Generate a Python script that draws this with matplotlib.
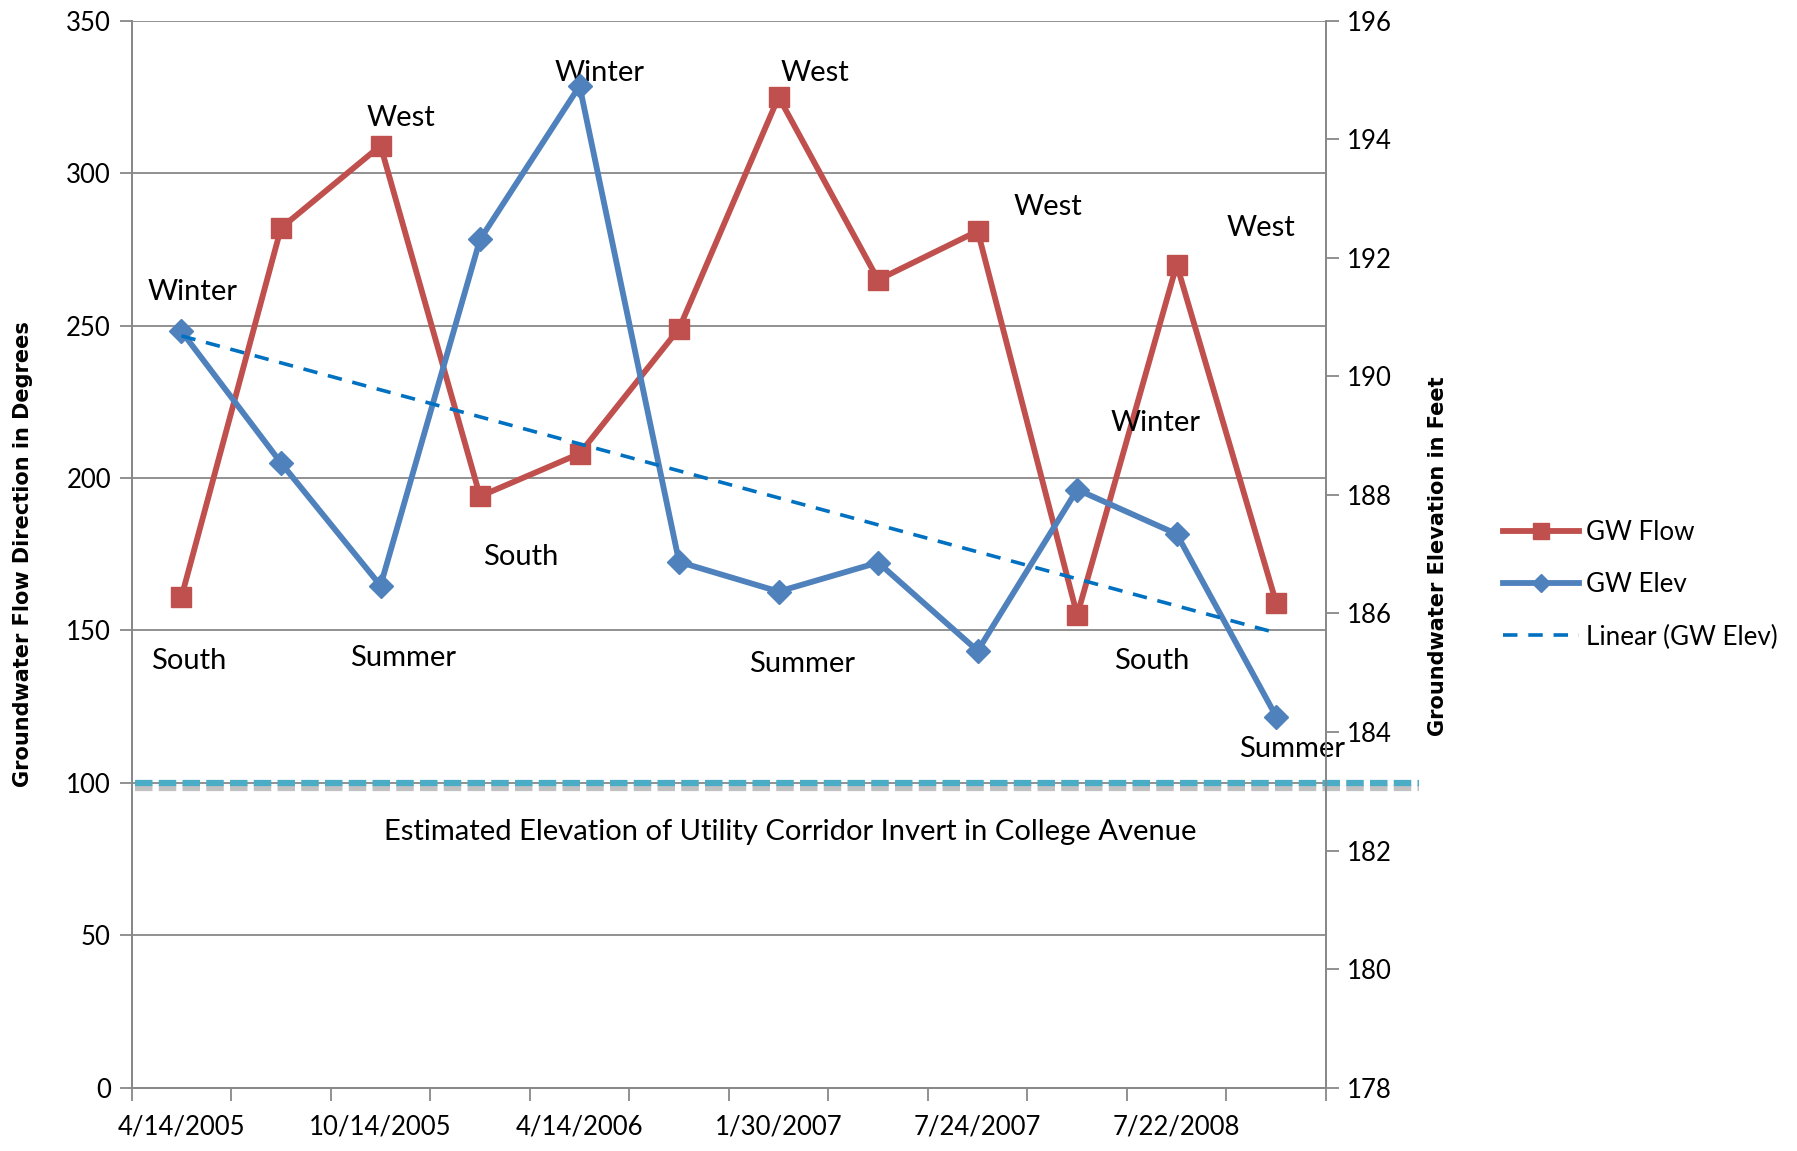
import numpy as np
import matplotlib
matplotlib.use("Agg")
import matplotlib.pyplot as plt
import matplotlib.patheffects as pe

# sampling dates (only every other one is labelled on the axis)
date_labels = ['4/14/2005', '', '10/14/2005', '', '4/14/2006', '',
               '1/30/2007', '', '7/24/2007', '', '7/22/2008', '']

# groundwater flow direction, degrees (left axis)
gw_flow = [161, 282, 309, 194, 208, 249, 325, 265, 281, 155, 270, 159]
# groundwater elevation, feet (right axis)
gw_elev = [190.76, 188.54, 186.47, 192.31, 194.90, 186.87,
           186.37, 186.86, 185.37, 188.09, 187.34, 184.26]

corridor_invert = 100  # on the degrees axis

# free text notes: (x, y on left axis, text)
notes = [
    (0.11, 261, 'Winter'), (2.20, 318, 'West'), (4.20, 333, 'Winter'),
    (6.36, 333, 'West'), (8.71, 289, 'West'), (10.85, 282, 'West'),
    (9.79, 218, 'Winter'), (3.41, 174, 'South'), (0.07, 140, 'South'),
    (2.23, 141, 'Summer'), (6.24, 139, 'Summer'), (9.75, 140, 'South'),
    (11.16, 111, 'Summer'),
]
corridor_note = 'Estimated Elevation of Utility Corridor Invert in College Avenue'

RED = '#C0504D'
BLUE = '#4F81BD'
TREND = '#0070C0'
AQUA = '#4BACC6'
GRID = '#888888'

plt.rcParams['font.family'] = ['Lato', 'DejaVu Sans']
fs_tick = 18.5
fs_note = 21

fig = plt.figure(figsize=(17.97, 11.51), dpi=100)
ax = fig.add_axes([0.0733, 0.055, 0.6646, 0.927])
ax2 = ax.twinx()

x = np.arange(len(gw_flow))

# left axis: flow direction
ax.plot(x, gw_flow, color=RED, lw=4.2, marker='s', ms=15, mec=RED, mfc=RED,
        label='GW Flow', zorder=3)
ax.set_ylim(0, 350)
ax.set_yticks(np.arange(0, 351, 50))
ax.set_xlim(-0.5, len(x) - 0.5)
for yv in np.arange(50, 351, 50):
    ax.axhline(yv, color=GRID, lw=1.3, zorder=1)

# right axis: elevation and its linear trend
ax2.plot(x, gw_elev, color=BLUE, lw=4.2, marker='D', ms=12, mec=BLUE, mfc=BLUE,
         label='GW Elev', zorder=3)
slope, icpt = np.polyfit(x, gw_elev, 1)
ax2.plot(x, icpt + slope * x, color=TREND, lw=2.6, ls=(0, (4, 3)),
         label='Linear (GW Elev)', zorder=4)
ax2.set_ylim(178, 196)
ax2.set_yticks(np.arange(178, 197, 2))

# corridor invert line, runs past the right axis
ax.plot([-0.47, 12.43], [corridor_invert, corridor_invert], color=AQUA, lw=4.5,
        ls=(0, (2.8, 1.0)), solid_capstyle='butt', dash_capstyle='butt',
        clip_on=False, zorder=5,
        path_effects=[pe.SimpleLineShadow(offset=(0, -3.5), shadow_color='#666666', alpha=0.4),
                      pe.Normal()])

# category axis: ticks between categories, labels under categories
ax.set_xticks(np.arange(-0.5, len(x), 1.0))
ax.set_xticklabels([])
ax.set_xticks(x, minor=True)
ax.set_xticklabels(date_labels, minor=True, fontsize=fs_tick)
ax.tick_params(axis='x', which='major', direction='out', length=9, width=1.3, color=GRID)
ax.tick_params(axis='x', which='minor', length=0, pad=19)
ax.tick_params(axis='y', direction='out', length=9, width=1.3, color=GRID,
               labelsize=fs_tick, pad=6)
ax2.tick_params(axis='y', direction='out', length=9, width=1.3, color=GRID,
                labelsize=fs_tick, pad=6)

for a in (ax, ax2):
    a.spines['top'].set_visible(False)
    for s in ('left', 'right', 'bottom'):
        a.spines[s].set_color(GRID)
        a.spines[s].set_linewidth(1.3)

for nx, ny, txt in notes:
    ax.text(nx, ny, txt, fontsize=fs_note, ha='center', va='center', zorder=6)
ax.text(6.12, 84, corridor_note, fontsize=fs_note, ha='center', va='center')

fig.text(0.0128, 0.519, 'Groundwater Flow Direction in Degrees', rotation=90,
         ha='center', va='center', fontsize=15, fontweight='bold', family='DejaVu Sans')
fig.text(0.800, 0.517, 'Groundwater Elevation in Feet', rotation=90,
         ha='center', va='center', fontsize=15, fontweight='bold', family='DejaVu Sans')

h1, l1 = ax.get_legend_handles_labels()
h2, l2 = ax2.get_legend_handles_labels()
fig.legend(h1 + h2, l1 + l2, loc='center left', bbox_to_anchor=(0.8365, 0.492),
           frameon=False, fontsize=18.7, borderpad=0, borderaxespad=0,
           handlelength=2.9, handletextpad=0.3, labelspacing=1.05, markerscale=0.75)

fig.savefig('out.png', dpi=100, facecolor='white')
